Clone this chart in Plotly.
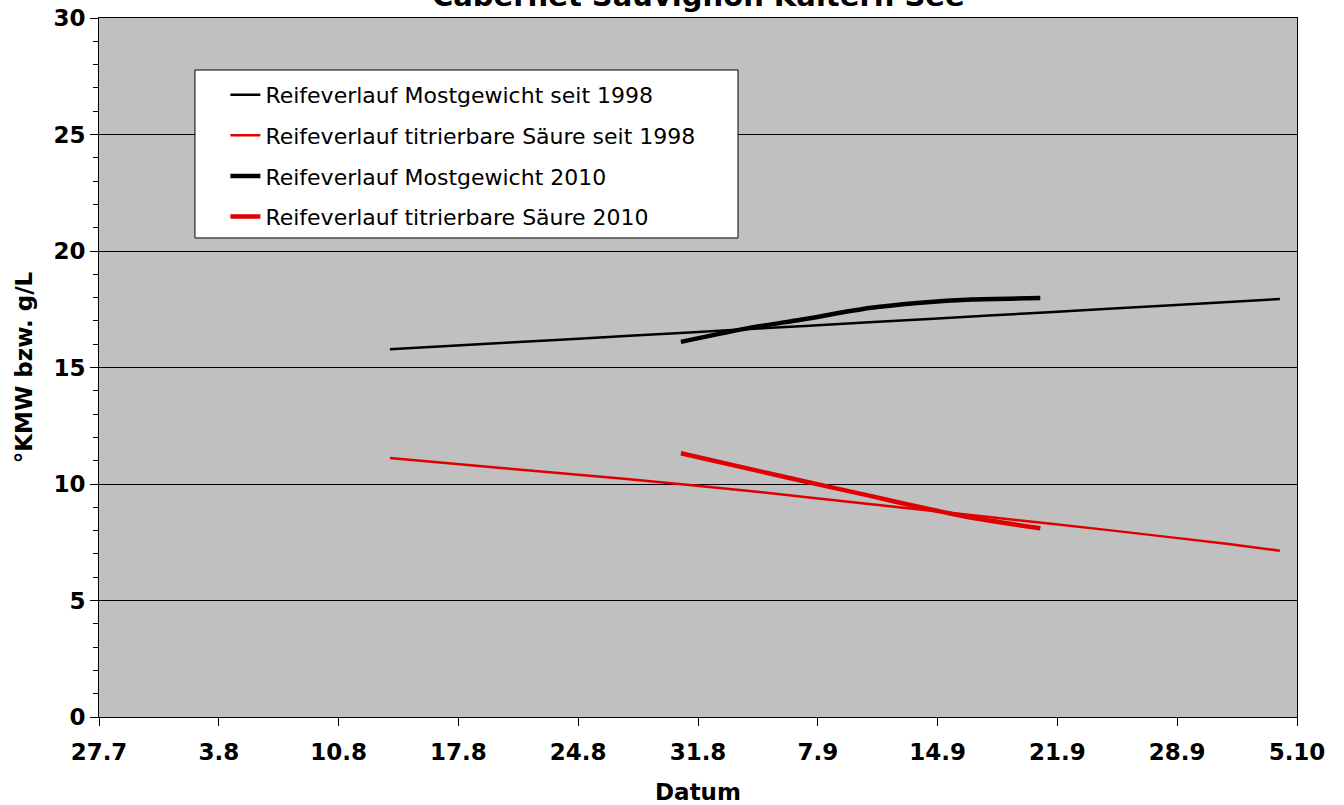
import plotly.graph_objects as go

# ---- data ----
tick_dates = ["2010-07-27", "2010-08-03", "2010-08-10", "2010-08-17", "2010-08-24",
              "2010-08-31", "2010-09-07", "2010-09-14", "2010-09-21", "2010-09-28", "2010-10-05"]
tick_labels = ["27.7", "3.8", "10.8", "17.8", "24.8", "31.8", "7.9", "14.9", "21.9", "28.9", "5.10"]

mw_avg_dates = ["2010-08-13", "2010-08-20", "2010-08-27", "2010-09-03", "2010-09-10",
                "2010-09-17", "2010-09-24", "2010-10-01", "2010-10-04"]
mw_avg_vals = [15.78, 16.07, 16.36, 16.65, 16.94, 17.23, 17.52, 17.81, 17.94]

ts_avg_dates = ["2010-08-13", "2010-08-20", "2010-08-27", "2010-09-03", "2010-09-10",
                "2010-09-17", "2010-09-24", "2010-10-01", "2010-10-04"]
ts_avg_vals = [11.12, 10.65, 10.20, 9.70, 9.14, 8.58, 8.02, 7.42, 7.14]

mw_2010_dates = ["2010-08-30", "2010-09-03", "2010-09-06", "2010-09-10",
                 "2010-09-13", "2010-09-16", "2010-09-20"]
mw_2010_vals = [16.10, 16.70, 17.05, 17.55, 17.78, 17.92, 17.98]

ts_2010_dates = ["2010-08-30", "2010-09-03", "2010-09-06", "2010-09-10",
                 "2010-09-13", "2010-09-16", "2010-09-20"]
ts_2010_vals = [11.32, 10.65, 10.15, 9.50, 9.00, 8.55, 8.10]

names = ["Reifeverlauf Mostgewicht seit 1998",
         "Reifeverlauf titrierbare Säure seit 1998",
         "Reifeverlauf Mostgewicht 2010",
         "Reifeverlauf titrierbare Säure 2010"]

RED = "rgb(224,0,0)"
FONT = "DejaVu Sans"

fig = go.Figure()
series = [
    (mw_avg_dates, mw_avg_vals, "black", 2.5),
    (ts_avg_dates, ts_avg_vals, RED, 2.5),
    (mw_2010_dates, mw_2010_vals, "black", 4.5),
    (ts_2010_dates, ts_2010_vals, RED, 4.5),
]
for i, (xs, ys, col, w) in enumerate(series):
    fig.add_trace(go.Scatter(
        x=xs, y=ys, mode="lines", name=names[i], legendgroup=str(i),
        line=dict(color=col, width=w, shape="spline", smoothing=0.6),
    ))

fig.update_layout(
    width=1344, height=805,
    margin=dict(l=99, r=47, t=18, b=88, autoexpand=False),
    paper_bgcolor="white",
    plot_bgcolor="#C0C0C0",
    font=dict(family=FONT, color="black"),
    showlegend=True,
    legend=dict(
        x=0.1055, y=0.9200, xanchor="left", yanchor="top",
        bgcolor="rgba(0,0,0,0)", borderwidth=0,
        font=dict(family=FONT, size=22, color="black"),
        traceorder="grouped", tracegroupgap=9, itemwidth=30,
    ),
    shapes=[dict(
        type="rect", xref="paper", yref="paper",
        x0=0.0801, x1=0.5334, y0=0.6853, y1=0.9256,
        fillcolor="white", line=dict(color="black", width=1), layer="above",
    )],
    annotations=[dict(
        text="<b>Cabernet Sauvignon Kaltern See</b>",
        xref="paper", yref="paper", x=0.5, y=1, xanchor="center", yanchor="bottom",
        yshift=3, showarrow=False, font=dict(family=FONT, size=29, color="black"),
    )],
)

fig.update_xaxes(
    type="date", automargin=False,
    range=["2010-07-27", "2010-10-05"],
    tickmode="array", tickvals=tick_dates, ticktext=tick_labels,
    ticks="outside", ticklen=8, tickcolor="black", tickwidth=1,
    ticklabelstandoff=6, ticklabeloverflow="allow",
    showline=True, linecolor="black", linewidth=1, mirror=True,
    showgrid=False, zeroline=False,
    tickfont=dict(family=FONT, size=23, color="black", weight="bold"),
    title=dict(text="<b>Datum</b>", font=dict(family=FONT, size=23, color="black"), standoff=29),
)
fig.update_yaxes(
    range=[0, 30], dtick=5, tick0=0, automargin=False,
    ticks="outside", ticklen=8, tickcolor="black", tickwidth=1,
    ticklabeloverflow="allow",
    minor=dict(dtick=1, ticks="outside", ticklen=5, tickcolor="black", showgrid=False),
    showline=True, linecolor="black", linewidth=1, mirror=True,
    showgrid=True, gridcolor="black", gridwidth=1, zeroline=False,
    tickfont=dict(family=FONT, size=23, color="black", weight="bold"),
    title=dict(text="<b>°KMW bzw. g/L</b>", font=dict(family=FONT, size=23, color="black"), standoff=14),
)

fig.write_html("out.html", config={"displayModeBar": False},
               post_script="document.body.style.margin='0';")
